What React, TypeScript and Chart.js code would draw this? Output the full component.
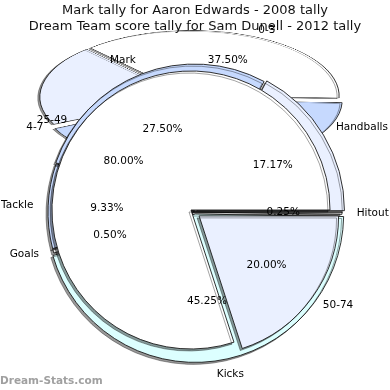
import React, { useEffect, useRef } from "react";
import Chart from "chart.js/auto";

// ---------- text ----------
const TITLE_LINES = [
  "Mark tally for Aaron Edwards - 2008 tally",
  "Dream Team score tally for Sam Dunell - 2012 tally",
];
const WATERMARK = "Dream-Stats.com";

// ---------- data ----------
// Mark tally (2008) – flattened back layer, clockwise from 315°
const markBackLabels = ["0-3", "", "4-7", ""];
const markBackValues = [37.5, 42.5, 0, 20.0];
const markBackShowPct = [true, false, false, false];

// Mark tally – front disc, clockwise from 3 o'clock
const markFrontLabels = ["50-74", "25-49"];
const markFrontValues = [20.0, 80.0];
const markFrontShowPct = [true, true];

// Dream Team score tally (2012), clockwise from 3 o'clock
const scoreLabels = ["Hitout", "Kicks", "Goals", "Tackle", "Mark", "Handballs"];
const scoreValues = [0.25, 45.25, 0.5, 9.33, 27.5, 17.17];
const scoreShowPct = [true, true, true, true, true, true];

// ---------- styles ----------
const WHITE = "#ffffff";
const LAVENDER = "#eaf0ff";
const LIGHTBLUE = "#c6d9fe";
const CYAN = "#dcffff";
const SIZE = 390;
const FLAT = 65 / 147;

const shadowPlugin = {
  id: "shadow",
  beforeDatasetsDraw(chart: any) {
    const c = chart.ctx;
    c.save();
    c.shadowColor = "rgba(0,0,0,0.4)";
    c.shadowOffsetX = -2;
    c.shadowOffsetY = 2;
    c.shadowBlur = 0;
  },
  afterDatasetsDraw(chart: any) {
    chart.ctx.restore();
  },
};

function makePie(
  canvas: HTMLCanvasElement,
  labels: string[],
  values: number[],
  colors: string[],
  offsets: number[],
  cx: number,
  cy: number,
  radius: number,
  rotation: number
) {
  return new Chart(canvas, {
    type: "pie",
    data: {
      labels,
      datasets: [
        {
          data: values,
          backgroundColor: colors,
          borderColor: "#1a1a1a",
          borderWidth: 0.9,
          offset: offsets,
          rotation,
        } as any,
      ],
    },
    options: {
      responsive: false,
      animation: false,
      devicePixelRatio: 1,
      events: [],
      radius,
      rotation,
      layout: {
        padding: {
          left: Math.max(0, 2 * cx - SIZE),
          right: Math.max(0, SIZE - 2 * cx),
          top: Math.max(0, 2 * cy - SIZE),
          bottom: Math.max(0, SIZE - 2 * cy),
        },
      },
      plugins: {
        legend: { display: false },
        tooltip: { enabled: false },
        title: { display: false },
      },
    } as any,
    plugins: [shadowPlugin],
  });
}

function drawLabels(
  ctx: CanvasRenderingContext2D,
  chart: any,
  labels: string[],
  values: number[],
  showPct: boolean[],
  offsets: number[],
  map: (x: number, y: number) => [number, number]
) {
  const meta = chart.getDatasetMeta(0);
  const total = values.reduce((a, b) => a + b, 0);
  meta.data.forEach((arc: any, i: number) => {
    const p = arc.getProps(["x", "y", "startAngle", "endAngle", "outerRadius"], true);
    const mid = (p.startAngle + p.endAngle) / 2;
    const off = (offsets[i] || 0) / 4;
    const ox = p.x + Math.cos(mid) * off;
    const oy = p.y + Math.sin(mid) * off;
    const R = p.outerRadius;
    if (labels[i]) {
      const [lx, ly] = map(ox + Math.cos(mid) * R * 1.1, oy + Math.sin(mid) * R * 1.1);
      ctx.textAlign = Math.cos(mid) >= 0 ? "left" : "right";
      ctx.fillText(labels[i], lx, ly);
    }
    if (showPct[i]) {
      const [px, py] = map(ox + Math.cos(mid) * R * 0.6, oy + Math.sin(mid) * R * 0.6);
      ctx.textAlign = "center";
      ctx.fillText(((values[i] / total) * 100).toFixed(2) + "%", px, py);
    }
  });
}

export default function App() {
  const backRef = useRef<HTMLCanvasElement>(null);
  const scoreRef = useRef<HTMLCanvasElement>(null);
  const frontRef = useRef<HTMLCanvasElement>(null);
  const labelRef = useRef<HTMLCanvasElement>(null);

  useEffect(() => {
    const backOffsets = [12, 28, 0, 12];
    const scoreOffsets = [0, 8, 0, 0, 4, 10];
    const frontOffsets = [40, 0];

    const back = makePie(
      backRef.current!,
      markBackLabels,
      markBackValues,
      [WHITE, LIGHTBLUE, LAVENDER, LAVENDER],
      backOffsets,
      190,
      195,
      147,
      -43
    );
    const score = makePie(
      scoreRef.current!,
      scoreLabels,
      scoreValues,
      [WHITE, CYAN, "#e6e6e6", LIGHTBLUE, LIGHTBLUE, LAVENDER],
      scoreOffsets,
      195,
      212,
      147,
      90
    );
    const front = makePie(
      frontRef.current!,
      markFrontLabels,
      markFrontValues,
      [LAVENDER, WHITE],
      frontOffsets,
      191,
      210,
      139,
      90
    );

    const lc = labelRef.current!;
    const ctx = lc.getContext("2d")!;
    ctx.clearRect(0, 0, SIZE, SIZE);
    ctx.font = '10.5px "DejaVu Sans"';
    ctx.fillStyle = "#000";
    ctx.textBaseline = "middle";
    const ident = (x: number, y: number): [number, number] => [x, y];
    const flat = (x: number, y: number): [number, number] => [x, 97 + (y - 195) * FLAT];
    drawLabels(ctx, back, markBackLabels, markBackValues, markBackShowPct, backOffsets, flat);
    drawLabels(ctx, score, scoreLabels, scoreValues, scoreShowPct, scoreOffsets, ident);
    drawLabels(ctx, front, markFrontLabels, markFrontValues, markFrontShowPct, frontOffsets, ident);

    return () => {
      back.destroy();
      score.destroy();
      front.destroy();
    };
  }, []);

  const layer: React.CSSProperties = { position: "absolute", left: 0, top: 0 };

  return (
    <div
      style={{
        position: "fixed",
        left: 0,
        top: 0,
        width: SIZE,
        height: SIZE,
        background: "#fff",
        overflow: "hidden",
        fontFamily: '"DejaVu Sans", sans-serif',
      }}
    >
      <canvas
        ref={backRef}
        width={SIZE}
        height={SIZE}
        style={{
          ...layer,
          transformOrigin: "190px 195px",
          transform: `translateY(-98px) scaleY(${FLAT})`,
        }}
      />
      <canvas ref={scoreRef} width={SIZE} height={SIZE} style={layer} />
      <canvas ref={frontRef} width={SIZE} height={SIZE} style={layer} />
      <canvas ref={labelRef} width={SIZE} height={SIZE} style={layer} />
      {TITLE_LINES.map((t, i) => (
        <div
          key={i}
          style={{
            position: "absolute",
            left: 0,
            width: SIZE,
            top: 2 + i * 16,
            lineHeight: "16px",
            fontSize: 13,
            textAlign: "center",
            color: "#111",
            whiteSpace: "nowrap",
          }}
        >
          {t}
        </div>
      ))}
      <div
        style={{
          position: "absolute",
          left: 0,
          top: 372,
          lineHeight: "16px",
          fontSize: 10.5,
          fontWeight: "bold",
          color: "#a0a0a0",
          whiteSpace: "nowrap",
        }}
      >
        {WATERMARK}
      </div>
    </div>
  );
}
